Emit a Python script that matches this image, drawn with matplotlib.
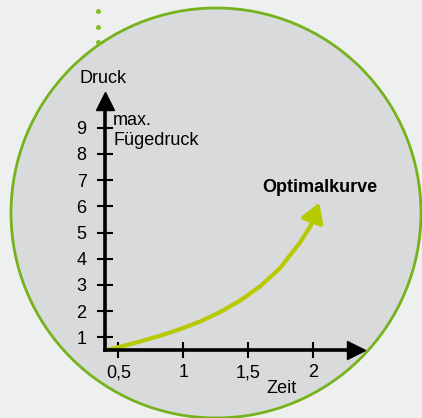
import matplotlib.pyplot as plt
from matplotlib.patches import Circle

plt.rcParams['font.family'] = ['Liberation Sans', 'DejaVu Sans']

# tick values and labels
x_ticks = [0.5, 1.0, 1.5, 2.0]
x_labels = ['0,5', '1', '1,5', '2']
y_ticks = [1, 2, 3, 4, 5, 6, 7, 8, 9]

# optimal curve (Zeit, Druck)
curve_x = [0.40, 0.513, 0.667, 0.821, 0.975, 1.128, 1.282, 1.436, 1.590, 1.744, 1.898, 1.975, 2.0]
curve_y = [0.50, 0.64, 0.84, 1.06, 1.31, 1.60, 1.96, 2.40, 2.94, 3.64, 4.62, 5.22, 5.52]
tip = (2.046, 6.14)

bg_col = '#eef0ef'
circle_face = '#d9dadc'
green = '#76b21c'
curve_col = '#b7c900'
fs = 13

fig = plt.figure(figsize=(4.22, 4.18), dpi=100, facecolor=bg_col)

# background decoration in pixel units
bg = fig.add_axes([0, 0, 1, 1], zorder=0)
bg.set_xlim(0, 422)
bg.set_ylim(418, 0)
bg.axis('off')
bg.add_patch(Circle((216, 213), 205, facecolor=circle_face, edgecolor=green, lw=2))
bg.plot([98, 98, 98], [10.7, 26.7, 42.3], 'o', color='#86bc24', ms=3.6, mec='none', zorder=3)

# the chart itself
ax = fig.add_axes([0.2495, 0.1617, 0.5946, 0.5955], zorder=1)
ax.set_facecolor('none')
ax.set_xlim(0.4, 2.33)
ax.set_ylim(0.5, 10.0)
for s in ['top', 'right']:
    ax.spines[s].set_visible(False)
for s in ['left', 'bottom']:
    ax.spines[s].set_linewidth(2.6)
    ax.spines[s].set_capstyle('projecting')

ax.set_xticks(x_ticks, labels=x_labels)
ax.set_yticks(y_ticks)
ax.tick_params(direction='inout', length=11, width=1.5, labelsize=fs, pad=4.5)
ax.tick_params(axis='y', pad=8)

# axis arrowheads
ax.plot(1, 0.5, '>', color='black', ms=13, transform=ax.get_yaxis_transform(), clip_on=False)
ax.plot(0.4, 1, '^', color='black', ms=13.5, transform=ax.get_xaxis_transform(), clip_on=False)

# curve with arrow
ax.plot(curve_x, curve_y, color=curve_col, lw=3, solid_capstyle='butt', solid_joinstyle='round', clip_on=False)
ax.annotate('', xy=tip, xytext=(curve_x[-2], curve_y[-2]),
            arrowprops=dict(arrowstyle='-|>,head_length=11.5,head_width=7', mutation_scale=1,
                            color=curve_col, lw=3, shrinkA=0, shrinkB=0), annotation_clip=False)

# labels
ax.text(0.205, 10.72, 'Druck', fontsize=fs, ha='left', va='baseline', clip_on=False)
ax.text(0.4615, 9.10, 'max.', fontsize=fs, ha='left', va='baseline')
ax.text(0.4615, 8.34, 'Fügedruck', fontsize=fs, ha='left', va='baseline')
ax.text(1.611, 6.557, 'Optimalkurve', fontsize=fs, fontweight='bold', ha='left', va='baseline')
ax.text(1.641, -1.137, 'Zeit', fontsize=fs, ha='left', va='baseline', clip_on=False)

fig.savefig('out.png', dpi=100, facecolor=bg_col)
